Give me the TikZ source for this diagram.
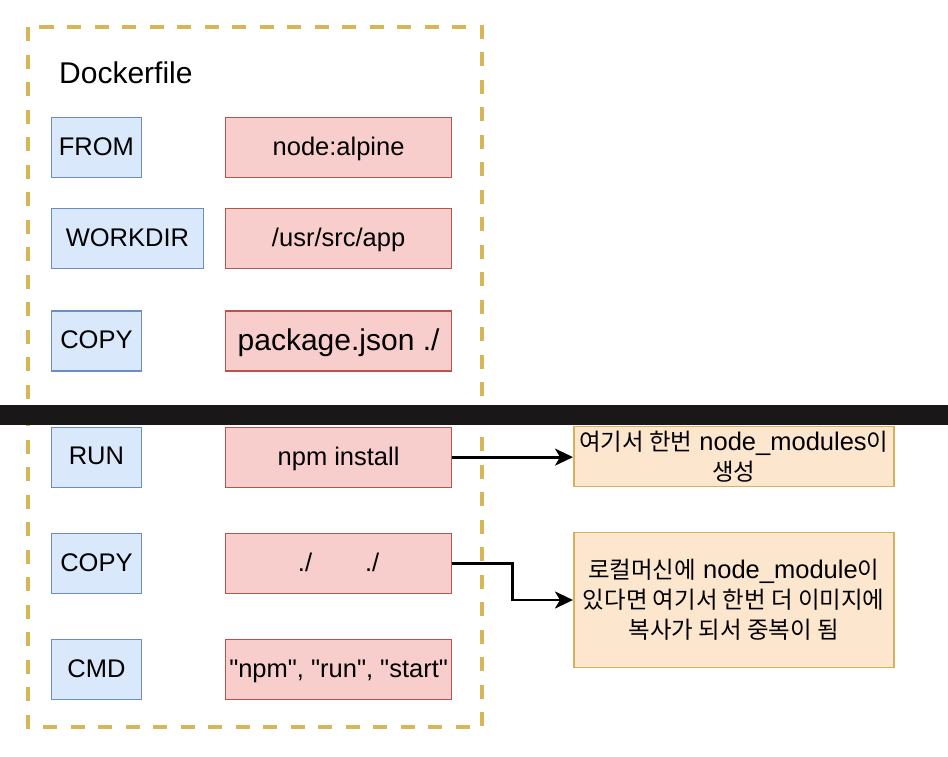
\documentclass[tikz,border=0pt]{standalone}
\usepackage{fontspec}
\setmainfont{Liberation Sans}
\newfontfamily\kr[Scale=0.92]{Noto Sans CJK KR}
\usetikzlibrary{arrows.meta, positioning}

\definecolor{cmdfill}{HTML}{DAE8FC}
\definecolor{cmdline}{HTML}{6C8EBF}
\definecolor{argfill}{HTML}{F8CECC}
\definecolor{argline}{HTML}{B85450}
\definecolor{memofill}{HTML}{FCE6CE}
\definecolor{memoline}{HTML}{D8B05C}
\definecolor{frameline}{HTML}{D6B656}
\definecolor{barcol}{HTML}{1A1719}

\begin{document}
\begin{tikzpicture}[
		x=1pt, y=1pt,
		node distance=30pt and 83pt,
		every node/.style={font=\fontsize{25.5}{30}\selectfont, inner sep=0pt},
		cmd/.style={draw=cmdline, fill=cmdfill, line width=1.2pt, minimum width=90pt, minimum height=60pt, text depth=2pt},
		arg/.style={draw=argline, fill=argfill, line width=1.2pt, minimum width=226pt, minimum height=60pt, text depth=2pt},
		memo/.style={draw=memoline, fill=memofill, line width=1.5pt, minimum width=320pt, align=center},
		frame/.style={draw=frameline, line width=4pt, dash pattern=on 14pt off 13.5pt},
		link/.style={-{Stealth[length=18pt, width=17pt, inset=5pt]}, line width=2.8pt, black}
		]
		\useasboundingbox (0,0) rectangle (948,-756);
		% Dockerfile frame and cut line
		\draw[frame] (28,-27) rectangle (482,-727);
		\fill[barcol] (0,-405) rectangle (948,-425);
		\node[anchor=west, font=\fontsize{30}{36}\selectfont] (title) at (59,-73) {Dockerfile};
		
		% Arguments
		\node[arg, anchor=west] (alpine) at (225,-147.5) {node:alpine};
		\node[arg, below=30pt of alpine] (usr) {/usr/src/app};
		\node[arg, below=41pt of usr, font=\fontsize{30}{36}\selectfont] (pkg) {package.json ./};
		\node[arg, below=55pt of pkg] (npm) {npm install};
		\node[arg, below=45pt of npm] (cp) {./\hspace{53pt}./};
		\node[arg, below=45pt of cp] (start) {\textquotedbl npm\textquotedbl, \textquotedbl run\textquotedbl, \textquotedbl start\textquotedbl};
		
		% Instructions
		\node[cmd, left=83pt of alpine] (from) {FROM};
		\node[cmd, anchor=west, minimum width=152pt] (workdir) at (from.west |- usr) {WORKDIR};
		\node[cmd, anchor=west] (copy1) at (from.west |- pkg) {COPY};
		\node[cmd, anchor=west] (run) at (from.west |- npm) {RUN};
		\node[cmd, anchor=west] (copy2) at (from.west |- cp) {COPY};
		\node[cmd, anchor=west] (cmdnode) at (from.west |- start) {CMD};
		
		% Notes
		\node[memo, minimum height=60pt, anchor=west] (note1) at (573,-456.5) {{\kr 여기서 한번} node\_modules{\kr 이}\\{\kr 생성}};
		\node[memo, minimum height=135pt, anchor=west] (note2) at (573,-600) {{\kr 로컬머신에} node\_module{\kr 이}\\{\kr 있다면 여기서 한번 더 이미지에}\\{\kr 복사가 되서 중복이 됨}};
		
		% Arrows
		\draw[link] (npm.east) -- (npm.east -| note1.west);
		\draw[link] (cp.east) -- ++(60pt,0) |- (note2.west);
	\end{tikzpicture}
\end{document}
